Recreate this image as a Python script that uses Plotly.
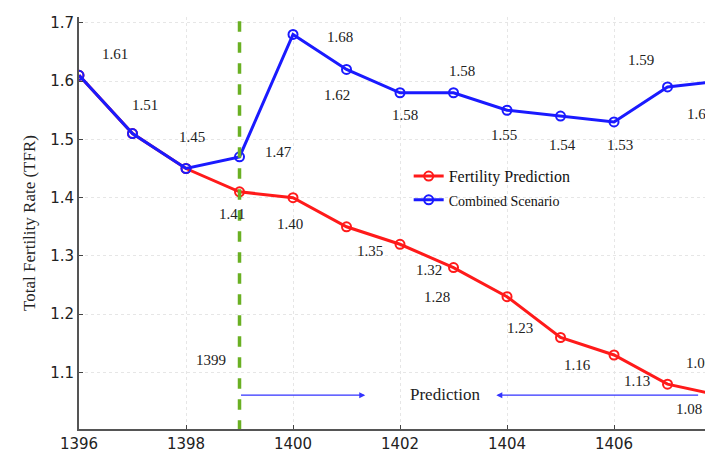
import plotly.graph_objects as go

years = [1396, 1397, 1398, 1399, 1400, 1401, 1402, 1403, 1404, 1405, 1406, 1407, 1408]
fertility = [1.61, 1.51, 1.45, 1.41, 1.40, 1.35, 1.32, 1.28, 1.23, 1.16, 1.13, 1.08, 1.06]
combined = [1.61, 1.51, 1.45, 1.47, 1.68, 1.62, 1.58, 1.58, 1.55, 1.54, 1.53, 1.59, 1.60]
red_labels = ["1.41", "1.40", "1.35", "1.32", "1.28", "1.23", "1.16", "1.13", "1.08", "1.06"]
red_label_pos = [(1398.86, 1.372), (1399.94, 1.355), (1401.44, 1.309), (1402.55, 1.275), (1402.69, 1.229),
                 (1404.24, 1.176), (1405.31, 1.113), (1406.43, 1.086), (1407.4, 1.038), (1407.6, 1.117)]
blue_labels = ["1.61", "1.51", "1.45", "1.47", "1.68", "1.62", "1.58", "1.58", "1.55", "1.54", "1.53", "1.59", "1.60"]
blue_label_pos = [(1396.67, 1.646), (1397.23, 1.559), (1398.11, 1.504), (1399.72, 1.479), (1400.88, 1.676),
                  (1400.82, 1.576), (1402.09, 1.542), (1403.16, 1.618), (1403.94, 1.508), (1405.03, 1.491),
                  (1406.11, 1.491), (1406.5, 1.637), (1407.6, 1.544)]

serif = "Liberation Serif"
fig = go.Figure()
fig.add_trace(go.Scatter(x=years, y=fertility, mode="lines+markers", name="Fertility Prediction",
                         line=dict(color="#ff1a1a", width=3),
                         marker=dict(symbol="circle-open", size=9, color="#ff1a1a", line=dict(width=2))))
fig.add_trace(go.Scatter(x=years, y=combined, mode="lines+markers", name="<span style='font-size:14px'>Combined Scenario</span>",
                         line=dict(color="#1a1aff", width=3),
                         marker=dict(symbol="circle-open", size=9, color="#1a1aff", line=dict(width=2))))

for t, (x, y) in zip(red_labels, red_label_pos):
    fig.add_annotation(x=x, y=y, text=t, showarrow=False, font=dict(family=serif, size=15, color="#222"))
for t, (x, y) in zip(blue_labels, blue_label_pos):
    fig.add_annotation(x=x, y=y, text=t, showarrow=False, font=dict(family=serif, size=15, color="#222"))

fig.add_shape(type="line", x0=1399, x1=1399, y0=1.0, y1=1.71, line=dict(color="#6ab023", width=3.5, dash="dash"))
fig.add_annotation(x=1398.47, y=1.122, text="1399", showarrow=False, font=dict(family=serif, size=15, color="#222"))
fig.add_annotation(x=1401.35, y=1.061, ax=1399.0, ay=1.061, axref="x", ayref="y", text="", showarrow=True,
                   arrowhead=2, arrowwidth=1.2, arrowcolor="#3333ff")
fig.add_annotation(x=1402.84, y=1.062, text="Prediction", showarrow=False, font=dict(family=serif, size=17, color="#222"))
fig.add_annotation(x=1403.8, y=1.061, ax=1407.6, ay=1.061, axref="x", ayref="y", text="", showarrow=True,
                   arrowhead=2, arrowwidth=1.2, arrowcolor="#3333ff")

fig.update_layout(
    width=713, height=455, template="plotly_white",
    margin=dict(l=71, r=8, t=6, b=34),
    plot_bgcolor="white", paper_bgcolor="white",
    showlegend=True,
    legend=dict(x=0.52, y=0.655, xanchor="left", yanchor="top", bgcolor="rgba(255,255,255,0)",
                font=dict(family=serif, size=16, color="#111"), tracegroupgap=0),
    xaxis=dict(range=[1396, 1407.85], tickvals=[1396, 1398, 1400, 1402, 1404, 1406], showgrid=True,
               gridcolor="#e6e6e6", griddash="dot", showline=True, linecolor="#555", linewidth=2,
               ticks="inside", ticklen=4, tickfont=dict(family="DejaVu Sans", size=15, color="#222"), zeroline=False),
    yaxis=dict(range=[1.003, 1.71], tickvals=[1.1, 1.2, 1.3, 1.4, 1.5, 1.6, 1.7], tickformat=".1f",
               showgrid=True, gridcolor="#e6e6e6", griddash="dot", showline=True, linecolor="#555", linewidth=2,
               ticks="inside", ticklen=4, tickfont=dict(family="DejaVu Sans", size=15, color="#222"),
               title=dict(text="Total Fertility Rate (TFR)", font=dict(family=serif, size=17, color="#222"), standoff=10),
               zeroline=False),
)
fig.write_html("out.html")
